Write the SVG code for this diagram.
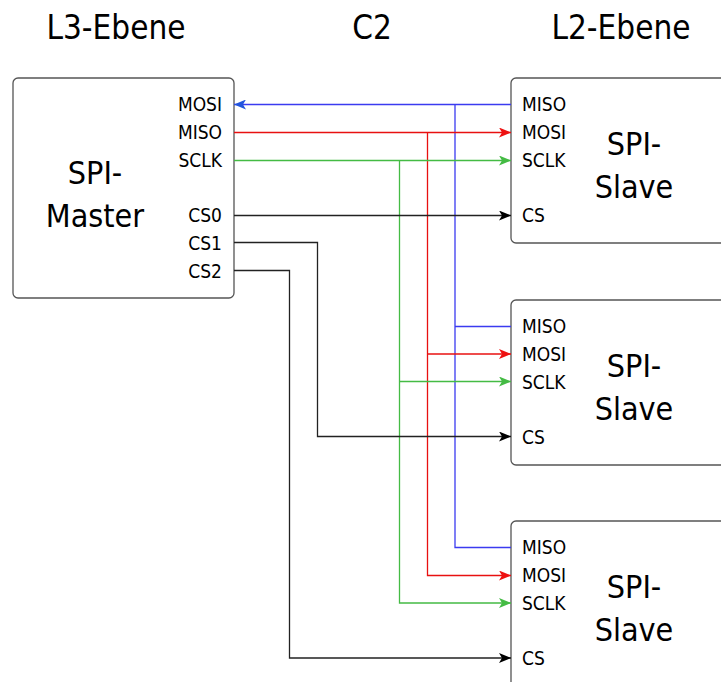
<svg xmlns="http://www.w3.org/2000/svg" width="721" height="682" viewBox="0 0 721 682">
<style>
text{font-family:"DejaVu Sans Condensed","Liberation Sans",sans-serif;fill:#000}
.hd{font-size:33px;text-anchor:middle}
.big{font-size:32px;text-anchor:middle}
.pin{font-size:19px}
.pr{text-anchor:end}
.box{fill:#fff;stroke:#555;stroke-width:1.3}
.w{fill:none;stroke-width:1.3}
.b{stroke:#3b3bf0}
.r{stroke:#e81010}
.g{stroke:#44bb44}
.k{stroke:#222}
</style>
<defs>
<marker id="ab" markerWidth="12" markerHeight="10" refX="12" refY="5" orient="auto" markerUnits="userSpaceOnUse"><path d="M0,0 L12,5 L0,10 L3,5 Z" fill="#2255dd"/></marker>
<marker id="ar" markerWidth="12" markerHeight="10" refX="12" refY="5" orient="auto" markerUnits="userSpaceOnUse"><path d="M0,0 L12,5 L0,10 L3,5 Z" fill="#ee1111"/></marker>
<marker id="ag" markerWidth="12" markerHeight="10" refX="12" refY="5" orient="auto" markerUnits="userSpaceOnUse"><path d="M0,0 L12,5 L0,10 L3,5 Z" fill="#44bb44"/></marker>
<marker id="ak" markerWidth="12" markerHeight="10" refX="12" refY="5" orient="auto" markerUnits="userSpaceOnUse"><path d="M0,0 L12,5 L0,10 L3,5 Z" fill="#000"/></marker>
</defs>
<rect width="721" height="682" fill="#fff"/>
<g id="headers">
<text class="hd" x="116" y="39">L3-Ebene</text>
<text class="hd" x="372" y="39">C2</text>
<text class="hd" x="621" y="39">L2-Ebene</text>
</g>
<g id="master">
<rect class="box" x="13" y="78" width="221" height="220" rx="5"/>
<text class="big" x="95" y="184">SPI-</text>
<text class="big" x="95" y="227">Master</text>
<text class="pin pr" x="222" y="111">MOSI</text>
<text class="pin pr" x="222" y="139">MISO</text>
<text class="pin pr" x="222" y="167">SCLK</text>
<text class="pin pr" x="222" y="222">CS0</text>
<text class="pin pr" x="222" y="250">CS1</text>
<text class="pin pr" x="222" y="278">CS2</text>
</g>
<g id="slave1">
<rect class="box" x="511" y="78" width="220" height="165" rx="5"/>
<text class="big" x="634" y="155">SPI-</text>
<text class="big" x="634" y="198">Slave</text>
<text class="pin" x="522" y="111">MISO</text>
<text class="pin" x="522" y="139">MOSI</text>
<text class="pin" x="522" y="167">SCLK</text>
<text class="pin" x="522" y="222">CS</text>
</g>
<g id="slave2">
<rect class="box" x="511" y="300" width="220" height="165" rx="5"/>
<text class="big" x="634" y="377">SPI-</text>
<text class="big" x="634" y="420">Slave</text>
<text class="pin" x="522" y="333">MISO</text>
<text class="pin" x="522" y="361">MOSI</text>
<text class="pin" x="522" y="389">SCLK</text>
<text class="pin" x="522" y="444">CS</text>
</g>
<g id="slave3">
<rect class="box" x="511" y="521" width="220" height="175" rx="5"/>
<text class="big" x="634" y="598">SPI-</text>
<text class="big" x="634" y="641">Slave</text>
<text class="pin" x="522" y="554">MISO</text>
<text class="pin" x="522" y="582">MOSI</text>
<text class="pin" x="522" y="610">SCLK</text>
<text class="pin" x="522" y="665">CS</text>
</g>
<g id="connectors">
<path class="w b" d="M511,104.5 H234" marker-end="url(#ab)"/>
<path class="w b" d="M455,104.5 V547.5 H511"/>
<path class="w b" d="M455,326.5 H511"/>
<path class="w r" d="M234,132.5 H511" marker-end="url(#ar)"/>
<path class="w r" d="M427.5,132.5 V575.5 H511" marker-end="url(#ar)"/>
<path class="w r" d="M427.5,354 H511" marker-end="url(#ar)"/>
<path class="w g" d="M234,160.5 H511" marker-end="url(#ag)"/>
<path class="w g" d="M399.5,160.5 V603 H511" marker-end="url(#ag)"/>
<path class="w g" d="M399.5,381.5 H511" marker-end="url(#ag)"/>
<path class="w k" d="M234,215.5 H511" marker-end="url(#ak)"/>
<path class="w k" d="M234,242.5 H317.5 V436.5 H511" marker-end="url(#ak)"/>
<path class="w k" d="M234,270.5 H289.5 V658 H511" marker-end="url(#ak)"/>
</g>
</svg>
